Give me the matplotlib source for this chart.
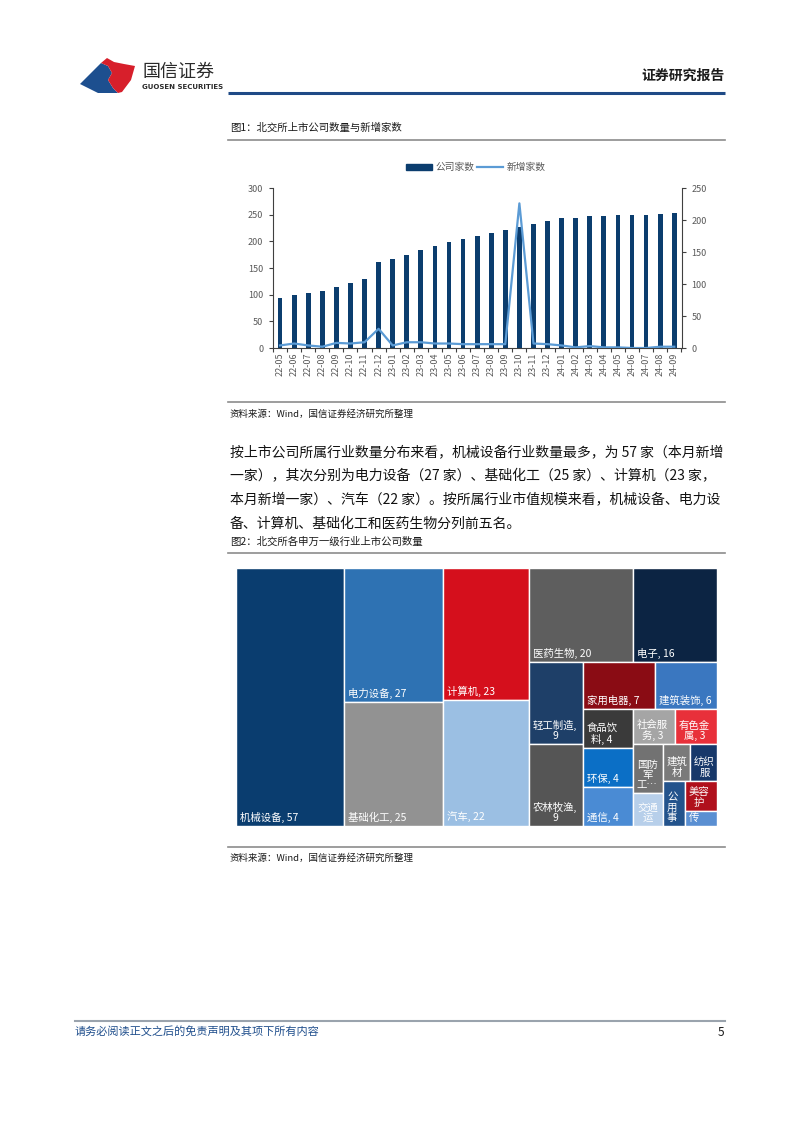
import matplotlib
matplotlib.use("Agg")
import matplotlib.pyplot as plt
from matplotlib.patches import Rectangle, Polygon
from matplotlib.lines import Line2D
import numpy as np

plt.rcParams['font.family'] = ['Noto Sans CJK SC', 'DejaVu Sans']

# ---------------- data ----------------
months = ['22-05', '22-06', '22-07', '22-08', '22-09', '22-10', '22-11', '22-12',
          '23-01', '23-02', '23-03', '23-04', '23-05', '23-06', '23-07', '23-08',
          '23-09', '23-10', '23-11', '23-12', '24-01', '24-02', '24-03', '24-04',
          '24-05', '24-06', '24-07', '24-08', '24-09']
company_count = [93, 100, 104, 106, 114, 121, 130, 162, 166, 175, 184, 191, 198, 204,
                 210, 216, 222, 226, 233, 239, 243, 244, 247, 248, 249, 249, 249, 251, 253]
new_count = [4, 7, 4, 2, 8, 7, 9, 30, 4, 9, 9, 7, 7, 6, 6, 6, 6, 226, 7, 6, 4, 1, 3, 1,
             1, 0, 0, 2, 2]
left_ticks = [0, 50, 100, 150, 200, 250, 300]
right_ticks = [0, 50, 100, 150, 200, 250]

industries = ['机械设备', '电力设备', '基础化工', '计算机', '汽车', '医药生物', '电子',
              '轻工制造', '农林牧渔', '家用电器', '建筑装饰', '食品饮料', '环保', '通信',
              '社会服务', '有色金属', '国防军工', '交通运输', '建筑材料', '纺织服饰',
              '公用事业', '美容护理', '传媒']
industry_counts = [57, 27, 25, 23, 22, 20, 16, 9, 9, 7, 6, 4, 4, 4, 3, 3, 3, 2, 2, 2, 2, 2, 1]
industry_labels = ['机械设备, 57', '电力设备, 27', '基础化工, 25', '计算机, 23', '汽车, 22',
                   '医药生物, 20', '电子, 16', '轻工制造,\n9', '农林牧渔,\n9', '家用电器, 7',
                   '建筑装饰, 6', '食品饮\n料, 4', '环保, 4', '通信, 4', '社会服\n务, 3',
                   '有色金\n属, 3', '国防\n军\n工…', '交通\n运', '建筑\n材', '纺织\n服',
                   '公\n用\n事', '美容\n护', '传']

# ---------------- styles ----------------
tm_colors = ['#0a3d6f', '#2e72b3', '#929292', '#d50f1c', '#9bbfe3', '#5e5e5e', '#0c2443',
             '#1e3f68', '#555555', '#8a0c14', '#3a77c0', '#3a3a3a', '#0b6fc6', '#4a8bd4',
             '#a5a5a5', '#e8303a', '#727272', '#b7cfea', '#7a7a7a', '#17386a',
             '#23538c', '#b0101c', '#5a8fd2']
strip_sizes = [1, 2, 2, 2, 2, 2, 3, 2, 2, 2, 1, 1, 1]

W, H = 802, 1133
fig = plt.figure(figsize=(W / 100, H / 100), dpi=100)
fig.patch.set_facecolor('white')

def frac_rect(x0, y0, x1, y1):
    return [x0 / W, 1 - y1 / H, (x1 - x0) / W, (y1 - y0) / H]

bg = fig.add_axes([0, 0, 1, 1])
bg.set_xlim(0, W)
bg.set_ylim(H, 0)
bg.axis('off')

# ---- header ----
bg.add_patch(Polygon([(80, 84), (101, 63), (108, 66), (112, 73), (108, 80), (113, 88),
                      (118, 93), (98, 93)], closed=True, color='#1d4f8f', lw=0))
bg.add_patch(Polygon([(101, 63), (107, 58), (114, 62), (124, 64), (135, 66), (131, 80),
                      (122, 92), (118, 93), (113, 88), (108, 80), (112, 73), (108, 66)],
                     closed=True, color='#d71f2b', lw=0))
bg.text(142, 72, '国信证券', fontsize=13, color='#2b2b2b', va='center', ha='left')
bg.text(142, 87, 'GUOSEN SECURITIES', fontsize=5, color='#2b2b2b', va='center', ha='left',
        fontweight='bold', family=['DejaVu Sans'])
bg.text(725, 76, '证券研究报告', fontsize=10, fontweight='bold', color='#1a1a1a',
        va='center', ha='right')
bg.plot([228, 725], [93, 93], color='#1f4a86', lw=2.2, solid_capstyle='butt')

# ---- figure 1 title ----
bg.text(230, 128, '图1：北交所上市公司数量与新增家数', fontsize=7.5, color='#1a1a1a',
        va='center', ha='left')
bg.plot([228, 725], [140, 140], color='#8c8c8c', lw=1.2)
bg.plot([228, 725], [402, 402], color='#8c8c8c', lw=1.2)
bg.text(230, 414, '资料来源：Wind，国信证券经济研究所整理', fontsize=6.8, color='#1a1a1a',
        va='center', ha='left')

# ---- paragraph ----
para = ['按上市公司所属行业数量分布来看，机械设备行业数量最多，为 57 家（本月新增',
        '一家），其次分别为电力设备（27 家）、基础化工（25 家）、计算机（23 家，',
        '本月新增一家）、汽车（22 家）。按所属行业市值规模来看，机械设备、电力设',
        '备、计算机、基础化工和医药生物分列前五名。']
for i, line in enumerate(para):
    bg.text(230, 452 + i * 23.8, line, fontsize=10, color='#111111', va='center', ha='left')

# ---- figure 2 title ----
bg.text(230, 542, '图2：北交所各申万一级行业上市公司数量', fontsize=7.5, color='#1a1a1a',
        va='center', ha='left')
bg.plot([228, 725], [553, 553], color='#8c8c8c', lw=1.2)
bg.plot([228, 725], [847, 847], color='#8c8c8c', lw=1.2)
bg.text(230, 858, '资料来源：Wind，国信证券经济研究所整理', fontsize=6.8, color='#1a1a1a',
        va='center', ha='left')

# ---- footer ----
bg.plot([75, 725], [1021, 1021], color='#9aa3ad', lw=1.5)
bg.text(75, 1031, '请务必阅读正文之后的免责声明及其项下所有内容', fontsize=8,
        color='#1f4e8c', va='center', ha='left', style='italic')
bg.text(724, 1032, '5', fontsize=8.5, color='#1a1a1a', va='center', ha='right')

# ---------------- chart 1 ----------------
ax = fig.add_axes(frac_rect(273, 188, 682, 348))
x = np.arange(len(months))
bar_color = '#0b3d6e'
line_color = '#5b9bd5'
ax.bar(x, company_count, width=0.34, color=bar_color, zorder=2)
ax.set_xlim(-0.45, len(months) - 0.45)
ax.set_ylim(0, 300)
ax.set_yticks(left_ticks)
ax2 = ax.twinx()
ax2.plot(x, new_count, color=line_color, lw=1.6, zorder=3)
ax2.set_ylim(0, 250)
ax2.set_yticks(right_ticks)

tick_col = '#595959'
for a in (ax, ax2):
    a.spines['top'].set_visible(False)
    for s in ('left', 'right', 'bottom'):
        a.spines[s].set_color('#404040')
        a.spines[s].set_linewidth(0.8)
    a.tick_params(axis='y', labelsize=6.5, labelcolor=tick_col, color='#404040',
                  length=3, width=0.8, direction='out', pad=4)
ax.spines['right'].set_visible(False)
ax2.spines['left'].set_visible(False)
ax2.spines['bottom'].set_visible(False)
ax.set_xticks(x)
ax.set_xticklabels(months, rotation=90, fontsize=6.5, color=tick_col)
ax.tick_params(axis='x', length=0, pad=3)
ax.set_xticks(np.arange(len(months) + 1) - 0.5, minor=True)
ax.tick_params(axis='x', which='minor', length=3, width=0.8, color='#404040', direction='out')

handles = [Rectangle((0, 0), 1, 1, color=bar_color),
           Line2D([0], [0], color=line_color, lw=1.6)]
leg = ax.legend(handles, ['公司家数', '新增家数'], loc='center', bbox_to_anchor=(0.496, 1.13),
                ncol=2, frameon=False, fontsize=7, handlelength=2.6, handleheight=0.6,
                handletextpad=0.4, columnspacing=0.3)
for t in leg.get_texts():
    t.set_color(tick_col)

# ---------------- treemap ----------------
tax = fig.add_axes(frac_rect(236, 568, 717, 826))
TW, TH = 717 - 236, 826 - 568
tax.set_xlim(0, TW)
tax.set_ylim(TH, 0)
tax.axis('off')


def strip_treemap(values, strips, x0, y0, w, h):
    rects = []
    i = 0
    for n in strips:
        group = values[i:i + n]
        gsum = sum(group)
        rem = sum(values[i:])
        if w >= h:
            cw = w * gsum / rem
            yy = y0
            for v in group:
                ch = h * v / gsum
                rects.append((x0, yy, cw, ch))
                yy += ch
            x0 += cw
            w -= cw
        else:
            rh = h * gsum / rem
            xx = x0
            for v in group:
                rw = w * v / gsum
                rects.append((xx, y0, rw, rh))
                xx += rw
            y0 += rh
            h -= rh
        i += n
    return rects


rects = strip_treemap(industry_counts, strip_sizes, 0, 0, TW, TH)
for (rx, ry, rw, rh), col, lab in zip(rects, tm_colors, industry_labels):
    tax.add_patch(Rectangle((rx, ry), rw, rh, facecolor=col, edgecolor='white', lw=1.0))
    tax.text(rx + 4, ry + rh - 3, lab, color='white', fontsize=7.5, ha='left', va='bottom',
             multialignment='center', linespacing=1.05)

fig.savefig('out.png', dpi=100, facecolor='white')
